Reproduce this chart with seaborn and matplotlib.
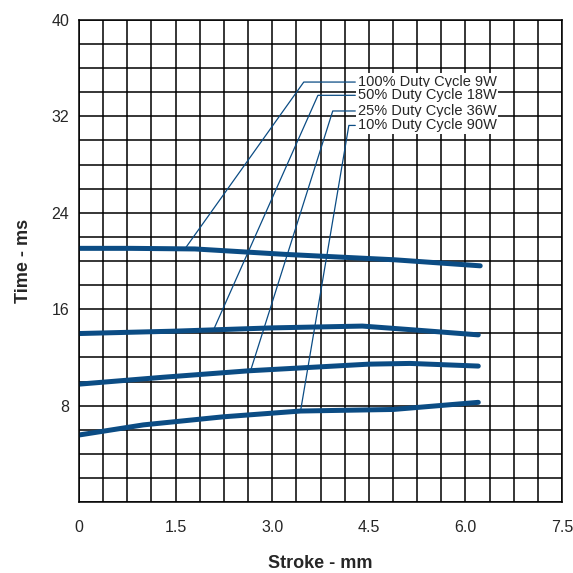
import matplotlib
matplotlib.use('Agg')
import matplotlib.pyplot as plt
from matplotlib.ticker import MultipleLocator
import pandas as pd
import seaborn as sns

# Curve data (stroke mm, time ms)
stroke_100 = [0.0, 0.8, 1.8, 3.2, 4.9, 6.23]
time_100 = [21.05, 21.05, 21.0, 20.55, 20.1, 19.6]

stroke_50 = [0.0, 1.5, 3.0, 4.4, 5.4, 6.2]
time_50 = [13.98, 14.18, 14.45, 14.6, 14.2, 13.87]

stroke_25 = [0.0, 1.3, 2.64, 4.5, 5.14, 6.2]
time_25 = [9.78, 10.35, 10.89, 11.44, 11.5, 11.28]

stroke_10 = [0.0, 1.0, 2.24, 3.44, 4.88, 6.2]
time_10 = [5.56, 6.4, 7.07, 7.55, 7.68, 8.27]

labels = ["100% Duty Cycle 9W", "50% Duty Cycle 18W",
          "25% Duty Cycle 36W", "10% Duty Cycle 90W"]

x_ticks = [0, 1.5, 3.0, 4.5, 6.0, 7.5]
x_tick_labels = ['0', '1.5', '3.0', '4.5', '6.0', '7.5']
y_ticks = [8, 16, 24, 32, 40]

# leader lines: point on curve -> label corner -> label start
leader_start_x = [1.65, 2.09, 2.67, 3.44]
leader_start_y = [21.05, 14.3, 11.0, 7.55]
leader_bend_x = [3.49, 3.71, 3.94, 4.19]
label_y = [34.85, 33.75, 32.45, 31.25]
label_x = 4.29

blue = '#0b4c84'

frames = []
for name, xs, ys in zip(labels, [stroke_100, stroke_50, stroke_25, stroke_10],
                        [time_100, time_50, time_25, time_10]):
    frames.append(pd.DataFrame({'stroke': xs, 'time': ys, 'series': name}))
df = pd.concat(frames, ignore_index=True)

sns.set_style("white")
plt.rcParams['font.family'] = ['Liberation Sans', 'DejaVu Sans']

fig = plt.figure(figsize=(5.73, 5.73), dpi=100)
ax = fig.add_axes([0.1379, 0.1239, 0.8429, 0.8412])

sns.lineplot(data=df, x='stroke', y='time', units='series', estimator=None,
             sort=False, color=blue, linewidth=3.6, solid_capstyle='round', ax=ax)

# leader lines
for sx, sy, bx, ly in zip(leader_start_x, leader_start_y, leader_bend_x, label_y):
    ax.plot([sx, bx, label_x], [sy, ly, ly], color=blue, linewidth=0.9, zorder=3)

for lab, ly in zip(labels, label_y):
    t = ax.text(label_x + 0.04, ly, lab, fontsize=10.5, va='center', ha='left', zorder=5)
    t.set_bbox(dict(boxstyle='square,pad=0.12', facecolor='white', edgecolor='none'))

ax.set_xlim(0, 7.5)
ax.set_ylim(0, 40)
ax.set_xticks(x_ticks)
ax.set_xticklabels(x_tick_labels)
ax.xaxis.set_minor_locator(MultipleLocator(0.375))
ax.set_yticks(y_ticks)
ax.yaxis.set_minor_locator(MultipleLocator(2))

ax.grid(which='both', color='black', linewidth=1.1)
ax.set_axisbelow(True)
for sp in ax.spines.values():
    sp.set_color('black')
    sp.set_linewidth(1.1)

ax.tick_params(axis='x', which='both', length=0, pad=13, labelsize=11.5)
ax.tick_params(axis='y', which='major', length=4, width=1, color='black', labelsize=11.5, pad=3)
ax.tick_params(axis='y', which='minor', length=0)

ax.set_xlabel('Stroke - mm', fontsize=13, fontweight='bold', labelpad=14)
ax.set_ylabel('Time - ms', fontsize=13, fontweight='bold', labelpad=14)

plt.savefig("out.png", dpi=100)
